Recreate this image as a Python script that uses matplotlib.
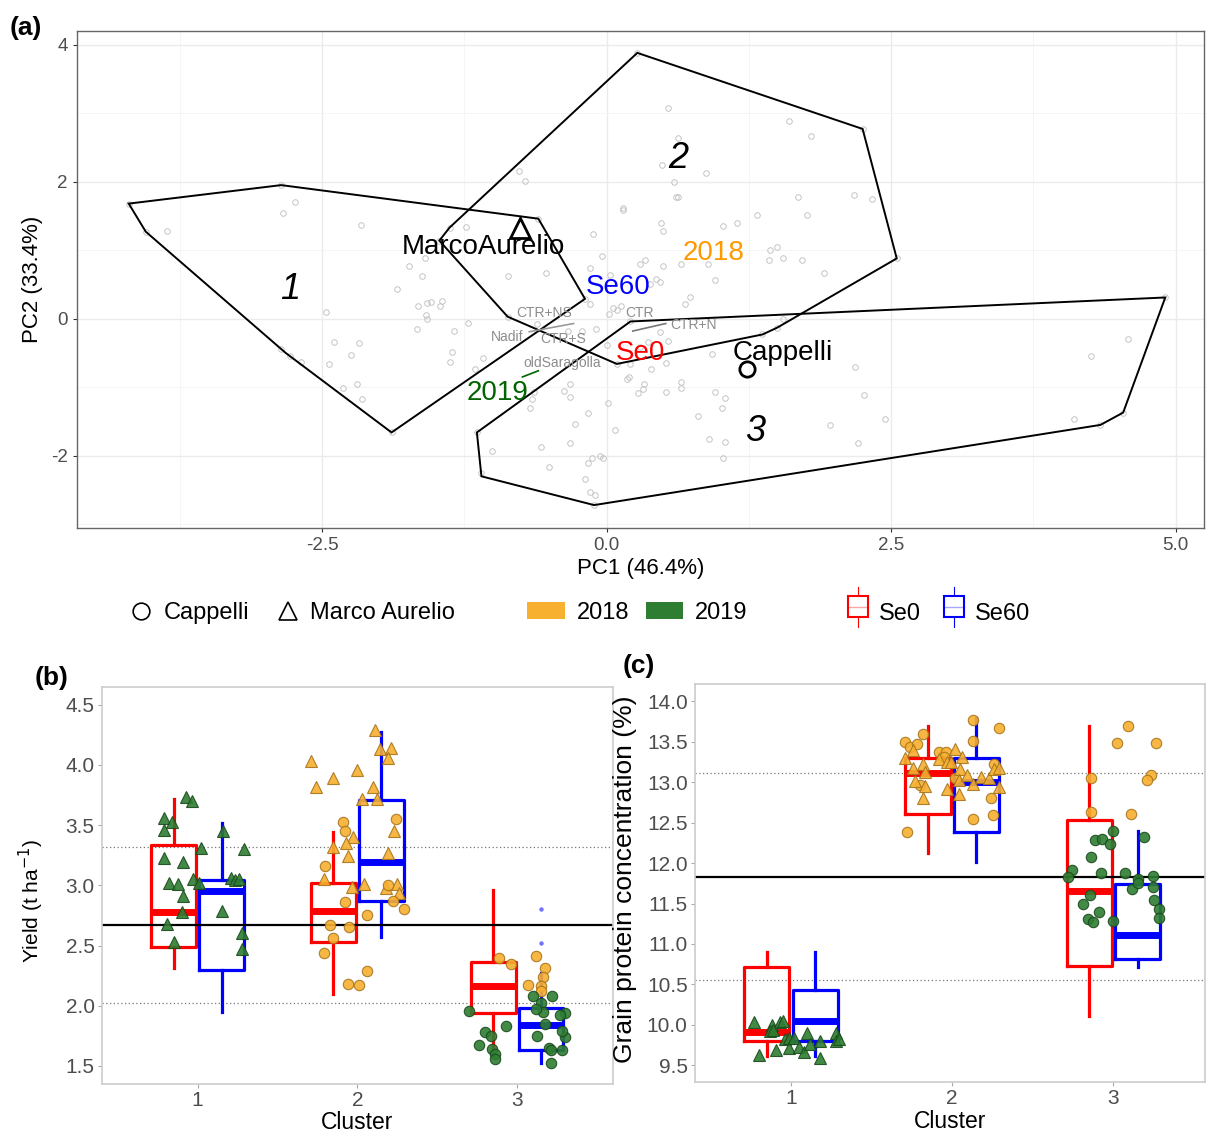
import numpy as np
import matplotlib
matplotlib.use("Agg")
import matplotlib.pyplot as plt
from matplotlib.lines import Line2D
from matplotlib.patches import Patch, Polygon, Rectangle

plt.rcParams['font.family'] = ['Liberation Sans', 'DejaVu Sans']
plt.rcParams['axes.unicode_minus'] = False

# ---------------- panel (a): PCA scores ----------------
pc1 = np.array([-4.20, -4.05, -3.86, -2.86, -2.74, -2.84, -2.16, -1.74, -1.62, -1.38, -1.47, -1.60,
                0.27, 0.54, 1.60, 1.80, 0.63, 0.49, 0.87, -0.77, -0.72, 0.59, 0.63, 0.61, 0.14, 0.14,
                1.68, 1.76, 1.32, 0.48, 0.50, 1.02, 1.15, -0.60, -1.24, -0.12, -0.04, 1.44, 1.50, 1.43,
                1.55, 1.72, 1.91, 0.34, 0.29, 0.50, 0.65, 0.89, -0.15, 0.03, -0.87, -0.53, 0.95, 0.43,
                2.25, 2.17, 2.33, 2.55,
                -1.84, -1.66, -1.58, -1.54, -1.45, -1.46, -1.59, -1.58, -1.67, -1.34, -1.36, -1.38,
                -2.47, -2.40, -2.18, -2.25, -2.44, -2.19, -2.32, -2.15, -1.89, -2.86, -2.78, -2.69,
                -1.22, -0.61, -0.34, -0.22, -0.09, 0.00, 0.06, 0.13, 0.02, 0.09, 0.73, 0.69, 0.47,
                0.38, -0.15, 0.47, 0.54, 0.36, 0.29, 0.21, 0.52, 0.39, 0.93, 1.55, -1.09, -1.16, 0.18,
                0.20, 0.65, 0.65, 0.33, 0.32, 0.28, 0.52, 0.95, 1.04, 1.01, 0.80, -0.32, -0.37, -0.32,
                -0.64, -0.66, -0.67, 0.01, -0.16, -0.28, 0.07, -0.32, -0.58, -1.01, -1.14, 0.90, 1.04,
                1.02, 1.96, -0.06, -0.03, -0.13, -0.16, -0.51, -0.19, -0.15, -0.10, -1.10, -0.11,
                4.91, 4.58, 4.26, 2.18, 2.26, 2.45, 2.21, 4.11, 4.54, 4.34,
                1.50, 1.37, -0.87, 0.21, -0.19, 0.09])
pc2 = np.array([1.68, 1.27, 1.28, 1.95, 1.71, 1.55, 1.37, 0.77, 0.63, 1.33, 1.14, 0.89,
                3.88, 3.08, 2.89, 2.66, 2.64, 2.25, 2.12, 2.15, 2.01, 2.00, 1.77, 1.77, 1.62, 1.59,
                1.78, 1.52, 1.52, 1.39, 1.28, 1.36, 1.39, 1.46, 1.34, 1.23, 0.92, 1.01, 1.04, 0.85,
                0.89, 0.86, 0.67, 0.85, 0.80, 0.77, 0.80, 0.80, 0.74, 0.64, 0.63, 0.66, 0.57, 0.58,
                2.77, 1.80, 1.75, 0.88,
                0.44, 0.18, 0.23, 0.25, 0.26, 0.18, 0.06, -0.01, -0.15, -0.18, -0.48, -0.63,
                0.10, -0.34, -0.36, -0.53, -0.66, -0.95, -1.01, -1.17, -1.66, -0.44, -0.55, -0.63,
                -0.06, -0.07, -0.18, -0.18, -0.15, -0.38, 0.15, 0.18, 0.07, 0.12, 0.32, 0.22, 0.53,
                0.50, 0.22, -0.19, -0.32, -0.34, -0.42, -0.66, -0.64, -0.73, -0.51, 0.00, -0.57, -0.74,
                -0.88, -0.85, -0.92, -1.01, -0.96, -1.02, -1.09, -1.07, -1.07, -1.15, -1.31, -1.42,
                -0.95, -1.05, -1.14, -1.07, -1.17, -1.30, -1.23, -1.37, -1.53, -1.62, -1.81, -1.87,
                -1.93, -1.66, -1.75, -1.80, -2.03, -1.55, -2.00, -2.04, -2.04, -2.10, -2.16, -2.34,
                -2.53, -2.58, -2.25, -2.72,
                0.31, -0.29, -0.55, -0.70, -1.12, -1.46, -1.82, -1.47, -1.37, -1.55,
                -0.13, -0.23, 0.03, -0.04, 0.29, -0.66])

hull1 = [(-4.20, 1.68), (-2.86, 1.95), (-0.60, 1.46), (-0.19, 0.29), (-1.89, -1.66),
         (-2.82, -0.50), (-4.05, 1.27)]
hull2 = [(0.27, 3.88), (2.25, 2.77), (2.55, 0.88), (1.50, -0.13), (1.37, -0.23), (0.09, -0.66),
         (-0.87, 0.03), (-1.47, 1.14), (-1.38, 1.33)]
hull3 = [(-1.14, -1.66), (-1.10, -2.30), (-0.11, -2.72), (4.34, -1.55), (4.54, -1.37),
         (4.91, 0.31), (0.21, -0.04)]
cluster_labels = ['1', '2', '3']
cluster_label_pos = [(-2.78, 0.42), (0.63, 2.34), (1.31, -1.65)]

# supplementary variables (text, x, y, colour)
big_labels = [('MarcoAurelio', -1.08, 1.04, 'black'), ('Cappelli', 1.55, -0.50, 'black'),
              ('2018', 0.94, 0.96, '#FF9900'), ('Se60', 0.10, 0.47, '#0000FF'),
              ('Se0', 0.30, -0.50, '#FF0000'), ('2019', -0.96, -1.08, '#006400')]
small_labels = [('CTR+NS', -0.55, 0.09), ('Nadif', -0.87, -0.26), ('CTR+S', -0.38, -0.29),
                ('CTR', 0.29, 0.09), ('CTR+N', 0.76, -0.09), ('oldSaragolla', -0.39, -0.64)]
segments = [((-0.68, -0.29), (-0.19, -0.07), '#999999'),
            ((0.23, 0.52), (-0.18, -0.07), '#777777'),
            ((-0.74, -0.60), (-0.85, -0.76), '#006400')]
marco_xy = (-0.76, 1.33)
cappelli_xy = (1.23, -0.73)

# ---------------- panels (b) and (c) ----------------
clusters = [1, 2, 3]
# yield boxes (whisker low, q1, median, q3, whisker high)
y_se0 = dict(lo=[2.31, 2.10, 1.63], q1=[2.49, 2.53, 1.94], med=[2.78, 2.79, 2.16],
             q3=[3.335, 3.02, 2.36], hi=[3.72, 3.44, 2.96])
y_se60 = dict(lo=[1.95, 2.57, 1.52], q1=[2.30, 2.87, 1.63], med=[2.95, 3.19, 1.84],
              q3=[3.04, 3.71, 1.98], hi=[3.52, 4.27, 2.27])
y_se60_fliers = [[], [], [2.80, 2.52]]
y_mean, y_sd_hi, y_sd_lo = 2.67, 3.32, 2.02

b_c1_tri_x = [0.93, 0.965, 0.79, 0.84, 0.79, 1.16, 1.02, 1.29, 0.79, 0.91, 0.97, 1.21, 1.235, 1.26,
              1.01, 0.82, 0.88, 0.91, 1.15, 0.90, 0.81, 1.28, 0.855, 1.28]
b_c1_tri_y = [3.73, 3.70, 3.56, 3.53, 3.46, 3.45, 3.31, 3.30, 3.23, 3.19, 3.05, 3.06, 3.04, 3.05,
              3.02, 3.02, 3.01, 2.91, 2.79, 2.78, 2.68, 2.60, 2.53, 2.47]
b_c2_tri_x = [1.71, 2.11, 2.14, 2.21, 2.19, 1.74, 1.85, 2.00, 2.10, 2.03, 2.12, 2.23, 1.975, 1.93,
              1.85, 1.94, 2.19, 1.79, 1.965, 2.04, 2.18, 2.25, 2.26]
b_c2_tri_y = [4.03, 4.29, 4.13, 4.14, 4.06, 3.82, 3.89, 3.96, 3.82, 3.72, 3.72, 3.45, 3.40, 3.35,
              3.32, 3.24, 3.27, 3.05, 2.99, 3.01, 2.98, 3.01, 2.94]
b_c2_circ_x = [1.91, 1.92, 2.24, 1.80, 2.19, 1.92, 2.225, 2.06, 2.29, 1.83, 1.95, 1.85, 1.79, 2.06,
               1.94, 2.01]
b_c2_circ_y = [3.53, 3.45, 3.55, 3.16, 3.00, 2.86, 2.87, 2.75, 2.80, 2.67, 2.65, 2.56, 2.44, 2.29,
               2.18, 2.17]
b_c3_or_x = [2.885, 2.96, 3.12, 3.175, 3.16, 3.07, 3.15, 3.15]
b_c3_or_y = [2.40, 2.35, 2.41, 2.31, 2.24, 2.17, 2.16, 2.12]
b_c3_gr_x = [3.10, 3.22, 3.15, 2.70, 3.16, 3.12, 3.30, 3.27, 2.93, 3.175, 2.80, 2.835, 3.30, 3.125,
             3.28, 2.76, 2.84, 2.86, 2.86, 3.20, 3.21, 3.28, 3.21]
b_c3_gr_y = [2.08, 2.08, 2.02, 1.96, 1.95, 1.97, 1.94, 1.92, 1.83, 1.85, 1.78, 1.75, 1.74, 1.75,
             1.79, 1.67, 1.64, 1.60, 1.56, 1.65, 1.63, 1.63, 1.52]

# protein boxes
p_se0 = dict(lo=[9.62, 12.12, 10.11], q1=[9.80, 12.61, 10.73], med=[9.91, 13.11, 11.66],
             q3=[10.71, 13.30, 12.53], hi=[10.90, 13.70, 13.70])
p_se60 = dict(lo=[9.62, 12.02, 10.71], q1=[9.80, 12.38, 10.81], med=[10.05, 13.005, 11.11],
              q3=[10.43, 13.30, 11.74], hi=[10.90, 13.79, 12.40])
p_mean, p_sd_hi, p_sd_lo = 11.83, 13.11, 10.56

c_c1_tri_x = [0.77, 0.88, 0.935, 0.95, 0.87, 0.89, 0.80, 0.91, 0.965, 0.99, 0.99, 1.02, 1.05, 1.08,
              1.10, 1.12, 1.18, 1.18, 1.28, 1.28, 1.295]
c_c1_tri_y = [10.04, 10.00, 10.03, 10.05, 9.92, 9.93, 9.63, 9.69, 9.82, 9.84, 9.71, 9.84, 9.72,
              9.66, 9.90, 9.76, 9.80, 9.59, 9.90, 9.80, 9.82]
c_c2_circ_x = [1.71, 1.74, 1.78, 1.82, 1.92, 1.96, 1.80, 1.72, 2.13, 2.13, 2.29, 2.26, 2.24, 2.25,
               2.13, 2.02, 1.95]
c_c2_circ_y = [13.50, 13.44, 13.47, 13.60, 13.38, 13.38, 12.97, 12.38, 13.77, 13.51, 13.67, 13.23,
               12.81, 12.59, 12.54, 13.05, 13.31]
c_c2_tri_x = [1.71, 1.76, 1.755, 1.82, 1.83, 1.77, 1.83, 1.82, 1.92, 1.97, 1.99, 2.02, 2.06, 2.05,
              1.97, 2.04, 2.04, 2.09, 2.13, 2.18, 2.23, 2.26, 2.29, 2.29]
c_c2_tri_y = [13.30, 13.40, 13.18, 13.22, 13.13, 13.01, 12.96, 12.81, 13.29, 13.25, 13.25, 13.41,
              13.31, 13.16, 12.92, 13.03, 12.85, 13.09, 12.98, 13.06, 13.05, 13.17, 13.18, 12.94]
c_c3_or_x = [2.86, 2.86, 3.02, 3.09, 3.265, 3.23, 3.21, 3.11]
c_c3_or_y = [13.05, 12.63, 13.48, 13.70, 13.48, 13.09, 13.03, 12.61]
c_c3_gr_x = [2.74, 2.72, 2.885, 2.93, 2.98, 3.00, 2.86, 2.92, 2.855, 2.81, 2.84, 2.87, 2.91, 3.00,
             3.07, 3.115, 3.15, 3.15, 3.19, 3.245, 3.245, 3.25, 3.28, 3.28]
c_c3_gr_y = [11.92, 11.83, 12.29, 12.30, 12.24, 12.40, 12.07, 11.88, 11.60, 11.49, 11.31, 11.27,
             11.40, 11.28, 11.88, 11.68, 11.80, 11.75, 12.32, 11.84, 11.71, 11.54, 11.43, 11.32]

ORANGE = '#F7B02F'
ORANGE_EDGE = '#A8741A'
GREEN = '#2E7D32'
GREEN_EDGE = '#1A4A1C'
RED = '#FF0000'
BLUE = '#0000FF'
TICK_GRAY = '#4D4D4D'

fig = plt.figure(figsize=(12.06, 11.38), dpi=100)

# ---------------- draw panel (a) ----------------
ax = fig.add_axes([0.0638, 0.5363, 0.9345, 0.4365])
ax.set_xlim(-4.655, 5.25)
ax.set_ylim(-3.05, 4.20)
ax.set_xticks([-2.5, 0, 2.5, 5.0])
ax.set_xticklabels(['-2.5', '0.0', '2.5', '5.0'])
ax.set_yticks([-2, 0, 2, 4])
ax.set_xticks([-3.75, -1.25, 1.25, 3.75], minor=True)
ax.set_yticks([-3, -1, 1, 3], minor=True)
ax.grid(which='major', color='#EBEBEB', lw=1.0)
ax.grid(which='minor', color='#F4F4F4', lw=0.6)
ax.set_axisbelow(True)
ax.tick_params(which='minor', length=0)
ax.tick_params(which='major', labelsize=13.5, labelcolor=TICK_GRAY, color='#333333', length=3)
for s in ax.spines.values():
    s.set_color('#666666')
    s.set_linewidth(1.0)
ax.set_xlabel('PC1 (46.4%)', fontsize=16, labelpad=3)
ax.set_ylabel('PC2 (33.4%)', fontsize=16, labelpad=6)

ax.plot(pc1, pc2, ls='', marker='o', ms=4, mfc='none', mec='#C4C4C4', mew=0.7, zorder=1)
for hull in (hull1, hull2, hull3):
    ax.add_patch(Polygon(hull, closed=True, fill=False, ec='black', lw=1.4, zorder=2))
for lab, (x, y) in zip(cluster_labels, cluster_label_pos):
    ax.text(x, y, lab, fontsize=26, style='italic', ha='center', va='center', zorder=4)
for (xs, ys, c) in segments:
    ax.plot(xs, ys, color=c, lw=1.2, zorder=3)
for lab, x, y in small_labels:
    ax.text(x, y, lab, fontsize=10, color='#8C8C8C', ha='center', va='center', zorder=4)
for lab, x, y, c in big_labels:
    ax.text(x, y, lab, fontsize=20, color=c, ha='center', va='center', zorder=4)
ax.plot(*marco_xy, marker='^', ms=15, mfc='none', mec='black', mew=2, zorder=4)
ax.plot(*cappelli_xy, marker='o', ms=11, mfc='none', mec='black', mew=2, zorder=4)

fig.text(0.008, 0.975, '(a)', fontsize=19, fontweight='bold', va='center')

# ---------------- legends ----------------
h_cap = Line2D([], [], ls='', marker='o', ms=12, mfc='none', mec='black', mew=1.2)
h_mar = Line2D([], [], ls='', marker='^', ms=13, mfc='none', mec='black', mew=1.2)
fig.legend([h_cap, h_mar], ['Cappelli', 'Marco Aurelio'], loc='center left',
           bbox_to_anchor=(0.108, 0.4613), ncol=2, frameon=False, fontsize=17,
           handlelength=0.9, handletextpad=0.5, columnspacing=1.2, borderaxespad=0, borderpad=0)
h_18 = Patch(fc=ORANGE, ec='none')
h_19 = Patch(fc=GREEN, ec='none')
fig.legend([h_18, h_19], ['2018', '2019'], loc='center left',
           bbox_to_anchor=(0.437, 0.4613), ncol=2, frameon=False, fontsize=17,
           handlelength=1.6, handleheight=0.75, handletextpad=0.5, columnspacing=0.7,
           borderaxespad=0, borderpad=0)


class BoxHandler:
    def legend_artist(self, legend, orig_handle, fontsize, handlebox):
        x0, y0 = handlebox.xdescent, handlebox.ydescent
        w, h = handlebox.width, handlebox.height
        c = orig_handle.get_color()
        tr = handlebox.get_transform()
        handlebox.add_artist(Line2D([x0 + w / 2] * 2, [y0 - 0.45 * h, y0 + 1.45 * h],
                                    color=c, lw=0.8, transform=tr))
        rect = Rectangle((x0, y0), w, h, fc='white', ec=c, lw=1.5, transform=tr)
        handlebox.add_artist(rect)
        handlebox.add_artist(Line2D([x0, x0 + w], [y0 + h / 2] * 2, color=c, lw=1.0,
                                    alpha=0.35, transform=tr))
        return rect


h_se0 = Line2D([], [], color=RED)
h_se60 = Line2D([], [], color=BLUE)
fig.legend([h_se0, h_se60], ['Se0', 'Se60'], loc='center left',
           bbox_to_anchor=(0.703, 0.4613), ncol=2, frameon=False, fontsize=17,
           handlelength=0.85, handleheight=1.0, handletextpad=0.45, columnspacing=1.0,
           borderaxespad=0, borderpad=0,
           handler_map={h_se0: BoxHandler(), h_se60: BoxHandler()})


# ---------------- panels (b), (c) ----------------
def draw_boxes(ax, st, pos, color, fliers=None):
    stats = []
    for i in range(len(pos)):
        stats.append(dict(whislo=st['lo'][i], q1=st['q1'][i], med=st['med'][i],
                          q3=st['q3'][i], whishi=st['hi'][i],
                          fliers=(fliers[i] if fliers else [])))
    ax.bxp(stats, positions=pos, widths=0.28, showcaps=False, manage_ticks=False,
           boxprops=dict(color=color, lw=2.3),
           whiskerprops=dict(color=color, lw=2.3),
           medianprops=dict(color=color, lw=5, solid_capstyle='butt'),
           flierprops=dict(marker='o', ms=3.2, mfc=color, mec='none', alpha=0.55),
           zorder=2)


def style_box_axes(ax, ylim, yticks, ylabel, label_size, label_xy):
    ax.set_xlim(0.40, 3.60)
    ax.set_ylim(*ylim)
    ax.set_xticks(clusters)
    ax.set_yticks(yticks)
    ax.set_yticklabels(['%.1f' % t for t in yticks])
    ax.tick_params(labelsize=15, labelcolor=TICK_GRAY, color='#AAAAAA', length=3, pad=2)
    for s in ax.spines.values():
        s.set_color('#CCCCCC')
        s.set_linewidth(1.2)
    ax.set_xlabel('Cluster', fontsize=16.5, labelpad=1)
    ax.set_ylabel(ylabel, fontsize=label_size)
    ax.yaxis.set_label_coords(*label_xy)


def pts(ax, x, y, marker, fc, ec, ms):
    ax.plot(x, y, ls='', marker=marker, ms=ms, mfc=fc, mec=ec, mew=0.8, alpha=0.9, zorder=3)


pos0 = [c - 0.15 for c in clusters]
pos60 = [c + 0.15 for c in clusters]

axb = fig.add_axes([0.0843, 0.0475, 0.4240, 0.3491])
style_box_axes(axb, (1.35, 4.65), [1.5, 2.0, 2.5, 3.0, 3.5, 4.0, 4.5], 'Yield (t ha$^{-1}$)',
               15, (-0.108, 0.46))
axb.axhline(y_mean, color='black', lw=1.6, zorder=2.5)
for v in (y_sd_hi, y_sd_lo):
    axb.axhline(v, color='#777777', lw=0.9, ls=(0, (1, 2)), zorder=1)
draw_boxes(axb, y_se0, pos0, RED)
draw_boxes(axb, y_se60, pos60, BLUE, y_se60_fliers)
pts(axb, b_c1_tri_x, b_c1_tri_y, '^', GREEN, GREEN_EDGE, 9)
pts(axb, b_c2_tri_x, b_c2_tri_y, '^', ORANGE, ORANGE_EDGE, 9)
pts(axb, b_c2_circ_x, b_c2_circ_y, 'o', ORANGE, ORANGE_EDGE, 7.5)
pts(axb, b_c3_or_x, b_c3_or_y, 'o', ORANGE, ORANGE_EDGE, 7.5)
pts(axb, b_c3_gr_x, b_c3_gr_y, 'o', GREEN, GREEN_EDGE, 7.5)
fig.text(0.029, 0.404, '(b)', fontsize=19, fontweight='bold', va='center')

axc = fig.add_axes([0.576, 0.0490, 0.4235, 0.3499])
style_box_axes(axc, (9.29, 14.215), [9.5, 10.0, 10.5, 11.0, 11.5, 12.0, 12.5, 13.0, 13.5, 14.0],
               'Grain protein concentration (%)', 19, (-0.113, 0.51))
axc.set_xlim(0.403, 3.57)
axc.axhline(p_mean, color='black', lw=1.6, zorder=2.5)
for v in (p_sd_hi, p_sd_lo):
    axc.axhline(v, color='#777777', lw=0.9, ls=(0, (1, 2)), zorder=1)
draw_boxes(axc, p_se0, pos0, RED)
draw_boxes(axc, p_se60, pos60, BLUE)
pts(axc, c_c1_tri_x, c_c1_tri_y, '^', GREEN, GREEN_EDGE, 9)
pts(axc, c_c2_circ_x, c_c2_circ_y, 'o', ORANGE, ORANGE_EDGE, 7.5)
pts(axc, c_c2_tri_x, c_c2_tri_y, '^', ORANGE, ORANGE_EDGE, 9)
pts(axc, c_c3_or_x, c_c3_or_y, 'o', ORANGE, ORANGE_EDGE, 7.5)
pts(axc, c_c3_gr_x, c_c3_gr_y, 'o', GREEN, GREEN_EDGE, 7.5)
fig.text(0.516, 0.415, '(c)', fontsize=19, fontweight='bold', va='center')

fig.savefig('out.png', dpi=100)
